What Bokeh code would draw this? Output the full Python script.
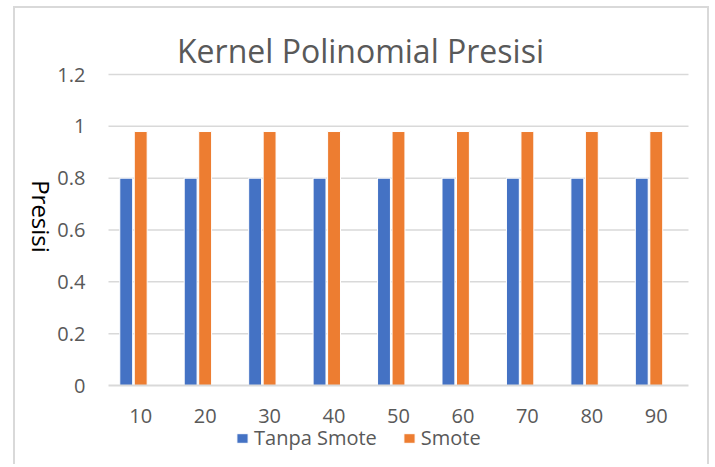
import math
from bokeh.plotting import figure
from bokeh.models import (FixedTicker, Legend, LegendItem, Label,
                          ColumnDataSource, Range1d)
from bokeh.embed import file_html
from bokeh.resources import INLINE

# ---- data ----
categories = ["10", "20", "30", "40", "50", "60", "70", "80", "90"]
tanpa_smote = [0.8, 0.8, 0.8, 0.8, 0.8, 0.8, 0.8, 0.8, 0.8]
smote = [0.98, 0.98, 0.98, 0.98, 0.98, 0.98, 0.98, 0.98, 0.98]
y_ticks = [0, 0.2, 0.4, 0.6, 0.8, 1, 1.2]
y_tick_labels = ["0", "0.2", "0.4", "0.6", "0.8", "1", "1.2"]
title_text = "Kernel Polinomial Presisi"
y_label = "Presisi"
series_names = ["Tanpa Smote", "Smote"]

BLUE = "#4472C4"
ORANGE = "#ED7D31"
GRAY_TXT = "#595959"
GRID = "#d9d9d9"
FONT = "Open Sans"

n = len(categories)
pos = [i + 1 for i in range(n)]              # category slots 1..n
OFF = 0.225                                   # dodge between the two series
src = ColumnDataSource(dict(pos=pos,
                            pos_blue=[x - OFF for x in pos],
                            tanpa=tanpa_smote, smote=smote))

W, H = 696, 458
p = figure(width=W, height=H, output_backend="svg", toolbar_location=None,
           x_range=Range1d(-0.943, n + 0.857),
           y_range=Range1d(-0.3125, 1.4547),
           min_border_left=0, min_border_right=0,
           min_border_top=0, min_border_bottom=0)
p.styles = {"margin-left": "13px", "margin-top": "6px",
            "border-top": f"2px solid {GRID}",
            "border-left": f"2px solid {GRID}",
            "border-right": f"2px solid {GRID}"}
p.outline_line_color = None
p.background_fill_color = "white"
p.border_fill_color = "white"
p.xgrid.grid_line_color = None
p.ygrid.grid_line_color = None

# horizontal gridlines over the category area
p.segment(x0=[0.5] * (len(y_ticks) - 1), x1=[n + 0.5] * (len(y_ticks) - 1),
          y0=y_ticks[1:], y1=y_ticks[1:], line_color=GRID, line_width=1.5)

r1 = p.vbar(x="pos_blue", top="tanpa", width=0.2, source=src,
            fill_color=BLUE, line_color="white", line_width=1)
r2 = p.vbar(x="pos", top="smote", width=0.2, source=src,
            fill_color=ORANGE, line_color="white", line_width=1)

# y axis (fixed at the left edge of the category area)
ya = p.yaxis[0]
ya.fixed_location = 0.5
ya.ticker = FixedTicker(ticks=y_ticks)
ya.major_label_overrides = {t: l for t, l in zip(y_ticks, y_tick_labels)}
ya.axis_line_color = None
ya.major_tick_line_color = None
ya.minor_tick_line_color = None
ya.major_tick_out = 0
ya.major_tick_in = 0
ya.major_label_text_font = FONT
ya.major_label_text_font_size = "20px"
ya.major_label_text_color = GRAY_TXT
ya.major_label_standoff = 23

# x axis (fixed at y = 0)
xa = p.xaxis[0]
xa.fixed_location = 0
xa.bounds = (0.5, n + 0.5)
xa.ticker = FixedTicker(ticks=pos)
xa.major_label_overrides = {x: c for x, c in zip(pos, categories)}
xa.axis_line_color = GRID
xa.axis_line_width = 2
xa.major_tick_line_color = None
xa.minor_tick_line_color = None
xa.major_tick_out = 0
xa.major_tick_in = 0
xa.major_label_text_font = FONT
xa.major_label_text_font_size = "20px"
xa.major_label_text_color = GRAY_TXT
xa.major_label_standoff = 23

# title
p.add_layout(Label(x=345, y=416, x_units="screen", y_units="screen",
                   text=title_text, text_align="center",
                   text_baseline="alphabetic", text_font=FONT,
                   text_font_size="32px", text_color=GRAY_TXT))
# y-axis title, rotated clockwise
p.add_layout(Label(x=26, y=250, x_units="screen", y_units="screen",
                   text=y_label, angle=-math.pi / 2, text_align="center",
                   text_baseline="middle", text_font=FONT,
                   text_font_size="24px", text_color="black"))

legend = Legend(items=[LegendItem(label=series_names[0], renderers=[r1]),
                       LegendItem(label=series_names[1], renderers=[r2])],
                orientation="horizontal", location=(220, 15),
                padding=0, margin=0, spacing=25, label_standoff=5,
                glyph_width=14, glyph_height=12,
                border_line_color=None, background_fill_alpha=0,
                label_text_font=FONT, label_text_font_size="20px",
                label_text_color=GRAY_TXT)
p.add_layout(legend, "center")

open("out.html", "w").write(file_html(p, INLINE))
